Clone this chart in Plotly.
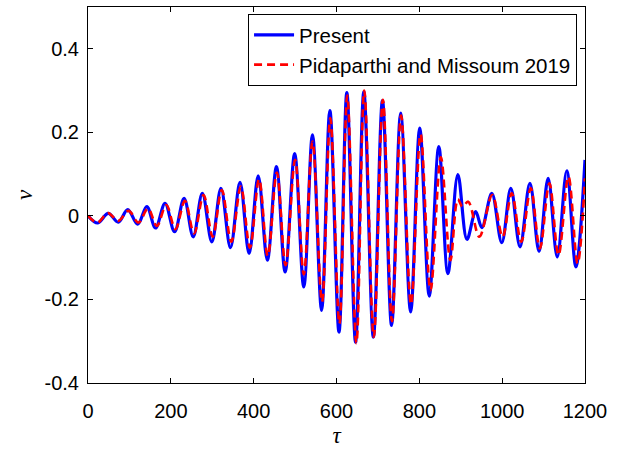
import plotly.graph_objects as go

# Blue curve ("Present"): extrema
tau_present = [0, 23, 49, 73, 96, 120, 142, 163, 186, 209, 232, 254, 276, 299, 321, 344,
               367, 389, 411, 433, 455, 476, 499, 521, 542, 564, 584, 606, 625, 646, 666,
               689, 711, 733, 755, 779, 801, 824, 847, 869, 893, 915, 936, 951, 975, 999,
               1021, 1043, 1067, 1089, 1111, 1133, 1156, 1178, 1200]
nu_present = [0, -0.017, 0.006, -0.015, 0.015, -0.020, 0.022, -0.029, 0.030, -0.038, 0.042,
              -0.050, 0.054, -0.062, 0.066, -0.076, 0.080, -0.090, 0.096, -0.106, 0.118,
              -0.134, 0.149, -0.170, 0.194, -0.226, 0.252, -0.278, 0.295, -0.302, 0.297,
              -0.290, 0.276, -0.262, 0.246, -0.230, 0.210, -0.192, 0.166, -0.138, 0.099,
              -0.056, 0.010, -0.028, 0.054, -0.064, 0.066, -0.074, 0.078, -0.085, 0.090,
              -0.098, 0.108, -0.122, 0.134]

# Red dashed curve ("Pidaparthi and Missoum 2019")
tau_ref = [0, 23, 48, 73, 98, 122, 145, 166, 189, 211, 234, 256, 279, 301, 323, 346, 369,
           391, 413, 434, 456, 477, 500, 521, 542, 565, 585, 607, 626, 648, 667, 690, 712,
           734, 756, 780, 803, 827, 852, 875, 893, 904, 918, 945, 976, 1001, 1023, 1046,
           1069, 1091, 1114, 1136, 1160, 1182, 1200]
nu_ref = [0, -0.016, 0.007, -0.012, 0.012, -0.016, 0.018, -0.024, 0.026, -0.032, 0.036,
          -0.042, 0.050, -0.050, 0.062, -0.062, 0.070, -0.076, 0.088, -0.096, 0.104, -0.118,
          0.134, -0.140, 0.178, -0.206, 0.234, -0.258, 0.288, -0.305, 0.300, -0.290, 0.278,
          -0.252, 0.240, -0.212, 0.196, -0.178, 0.140, -0.106, 0.040, 0.022, 0.034, -0.050,
          0.050, -0.050, 0.054, -0.062, 0.066, -0.078, 0.078, -0.094, 0.094, -0.114, 0.090]

x_ticks = [0, 200, 400, 600, 800, 1000, 1200]
y_ticks = [-0.4, -0.2, 0, 0.2, 0.4]
y_tick_text = ["-0.4", "-0.2", "0", "0.2", "0.4"]

fig = go.Figure()
fig.add_trace(go.Scatter(x=tau_present, y=nu_present, mode="lines", name="Present",
                         line=dict(color="#0000FF", width=3.2, shape="spline", smoothing=1)))
fig.add_trace(go.Scatter(x=tau_ref, y=nu_ref, mode="lines", name="Pidaparthi and Missoum 2019",
                         line=dict(color="#FF0000", width=2.6, dash="8px,5px",
                                   shape="spline", smoothing=1)))

axis_common = dict(showline=True, linecolor="black", linewidth=1, mirror="ticks",
                   ticks="inside", ticklen=5, tickcolor="black", showgrid=False,
                   zeroline=False, tickfont=dict(family="Liberation Sans", size=20, color="black"))

fig.update_xaxes(range=[0, 1200], tickvals=x_ticks, ticklabelstandoff=10,
                 title=dict(text="<i>τ</i>", font=dict(family="Liberation Serif", size=23, color="black"),
                            standoff=5),
                 **axis_common)
fig.update_yaxes(range=[-0.4, 0.5], tickvals=y_ticks, ticktext=y_tick_text, ticklabelstandoff=4,
                 title=dict(text="<i>ν</i>", font=dict(family="Liberation Serif", size=23, color="black"),
                            standoff=5),
                 **axis_common)

fig.update_layout(
    width=632, height=450,
    margin=dict(l=88, r=47, t=7, b=67),
    paper_bgcolor="white", plot_bgcolor="white",
    legend=dict(x=0.984, y=0.981, xanchor="right", yanchor="top",
                bgcolor="white", bordercolor="black", borderwidth=1,
                font=dict(family="Liberation Sans", size=20.5, color="black"),
                tracegroupgap=0, itemwidth=40),
    showlegend=True,
)

fig.write_html("out.html")
